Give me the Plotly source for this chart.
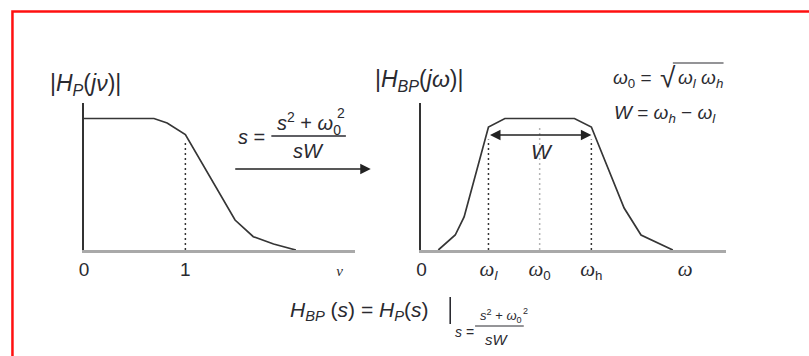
import plotly.graph_objects as go

W_PX, H_PX = 809, 356

# Prototype low-pass magnitude |H_P(jν)|
nu = [0, 0.69, 0.82, 1.0, 1.49, 1.67, 1.87, 2.09]
hp_mag = [1.0, 1.0, 0.966, 0.878, 0.228, 0.101, 0.046, 0.0]

# Transformed band-pass magnitude |H_BP(jω)|
omega = [0.143, 0.286, 0.361, 0.567, 0.706, 1.294, 1.437, 1.714, 1.857, 2.126]
hbp_mag = [0.0, 0.114, 0.251, 0.935, 1.0, 1.0, 0.935, 0.319, 0.114, 0.0]

# Band edges and centre frequency
w_l, w_0, w_h = 0.567, 1.0, 1.437
guide_top = {"l": 0.84, "0": 0.95, "h": 0.84}
nu_cut, nu_cut_top = 1.0, 0.82
w_arrow_level = 0.8745

# Axis tick labels
lp_tickvals = [0, 1, 2.52]
lp_ticktext = ["0", "1", "<span style='font-family:Liberation Serif;font-size:15px'><i>ν</i></span>"]
OM = "<span style='font-family:Liberation Serif;font-size:21px'><i>ω</i></span>"
bp_tickvals = [0, w_l, w_0, w_h, 2.23]
bp_ticktext = ["0",
               OM + "<sub><i>l</i></sub>",
               OM + "<sub>0</sub>",
               OM + "<sub>h</sub>",
               OM]

INK = "#2a2a30"
CURVE = "#363636"
AXIS_X = "#a9a9a9"


def px(x):
    return x / W_PX


def py(y):
    return 1 - y / H_PX


fig = go.Figure()

fig.add_trace(go.Scatter(x=nu, y=hp_mag, mode="lines", xaxis="x", yaxis="y",
                         line=dict(color=CURVE, width=1.7), hoverinfo="skip"))
fig.add_trace(go.Scatter(x=[nu_cut, nu_cut], y=[0, nu_cut_top], mode="lines",
                         xaxis="x", yaxis="y",
                         line=dict(color="#333", width=1.5, dash="2px,3px"), hoverinfo="skip"))

fig.add_trace(go.Scatter(x=omega, y=hbp_mag, mode="lines", xaxis="x2", yaxis="y2",
                         line=dict(color=CURVE, width=1.7), hoverinfo="skip"))
for key, xv, col in [("l", w_l, "#333"), ("0", w_0, "#b5b5b5"), ("h", w_h, "#333")]:
    fig.add_trace(go.Scatter(x=[xv, xv], y=[0, guide_top[key]], mode="lines",
                             xaxis="x2", yaxis="y2",
                             line=dict(color=col, width=1.5, dash="2px,3px"), hoverinfo="skip"))

y_dom = [py(250), py(102.5)]
y_rng = [0, 147.5 / 131.5]

common_x = dict(showgrid=False, zeroline=False, showline=True, linecolor=AXIS_X,
                linewidth=2.5, ticks="", tickfont=dict(family="Liberation Sans", size=19, color=INK),
                fixedrange=True)
common_y = dict(showgrid=False, zeroline=False, showline=True, linecolor="#333",
                linewidth=1.5, showticklabels=False, ticks="", range=y_rng, domain=y_dom,
                fixedrange=True)

fig.update_layout(
    width=W_PX, height=H_PX,
    margin=dict(l=0, r=0, t=0, b=0),
    paper_bgcolor="white", plot_bgcolor="rgba(0,0,0,0)",
    showlegend=False,
    xaxis=dict(domain=[px(79.5), px(352)], range=[0, (352 - 79.5) / 102],
               tickvals=lp_tickvals, ticktext=lp_ticktext, anchor="y", **common_x),
    yaxis=dict(anchor="x", **common_y),
    xaxis2=dict(domain=[px(419), px(725)], range=[0, 306 / 119],
                tickvals=bp_tickvals, ticktext=bp_ticktext, anchor="y2", **common_x),
    yaxis2=dict(anchor="x2", **common_y),
)

F = "Liberation Sans"
ann = []


def txt(x, y, s, size=18, xanchor="center", family=F):
    ann.append(dict(x=px(x), y=py(y), xref="paper", yref="paper", text=s, showarrow=False,
                    xanchor=xanchor, yanchor="middle",
                    font=dict(family=family, size=size, color=INK)))


# Axis titles
txt(81, 85, "|<i>H</i><sub><i>P</i></sub>(<i>jν</i>)|", 23)
txt(417, 80, "|<i>H</i><sub><i>BP</i></sub>(<i>jω</i>)|", 23)

# Transformation s = (s^2 + ω0^2) / (sW)
txt(248, 137, "<i>s</i> =", 20)
txt(306, 123, "<i>s</i><sup>2</sup> + <i>ω</i><sub>0</sub>", 20)
txt(338, 113, "2", 14)
txt(305, 151, "<i>sW</i>", 20)

# Relations on the right
txt(610, 79, "<i>ω</i><sub>0</sub> =", 19, "left")
txt(667, 77, "√", 28)
txt(675, 79, "<i>ω</i><sub><i>l</i></sub> <i>ω</i><sub><i>h</i></sub>", 19, "left")
txt(611, 114, "<i>W</i> = <i>ω</i><sub><i>h</i></sub> − <i>ω</i><sub><i>l</i></sub>", 19, "left")

# Band width label
txt(540, 152, "<i>W</i>", 21)

# Bottom identity
txt(285, 311, "<i>H</i><sub><i>BP</i></sub> (<i>s</i>) = <i>H</i><sub><i>P</i></sub>(<i>s</i>)", 21, "left")
txt(462, 332, "<i>s</i> =", 14)
txt(499, 316, "<i>s</i><sup>2</sup> + <i>ω</i><sub>0</sub>", 13)
txt(524, 311, "2", 9)
txt(495, 339, "<i>sW</i>", 15)

# Transformation arrow between the two panels
ann.append(dict(x=px(368), y=py(169), xref="paper", yref="paper", ax=-137, ay=0,
                axref="pixel", ayref="pixel", text="", showarrow=True,
                arrowhead=2, arrowsize=1.4, arrowwidth=1.5, arrowcolor="#222"))

# Bandwidth double arrow
ann.append(dict(x=w_h, y=w_arrow_level, xref="x2", yref="y2", ax=w_l, ay=w_arrow_level,
                axref="x2", ayref="y2", text="", showarrow=True, arrowside="end+start",
                arrowhead=2, startarrowhead=2, arrowsize=1.4, startarrowsize=1.4,
                arrowwidth=1.5, arrowcolor="#222"))

fig.update_layout(annotations=ann)

shapes = [
    # frame
    dict(type="rect", xref="paper", yref="paper", x0=px(7.5), y0=py(11.5), x1=1.05, y1=-0.05,
         line=dict(color="#ff1010", width=2.5)),
    # fraction bars
    dict(type="line", xref="paper", yref="paper", x0=px(268), x1=px(343), y0=py(136), y1=py(136),
         line=dict(color=INK, width=1.3)),
    dict(type="line", xref="paper", yref="paper", x0=px(473), x1=px(522), y0=py(326), y1=py(326),
         line=dict(color=INK, width=1.0)),
    # evaluation bar
    dict(type="line", xref="paper", yref="paper", x0=px(448), x1=px(448), y0=py(297), y1=py(324),
         line=dict(color=INK, width=1.6)),
    # radical overbar
    dict(type="line", xref="paper", yref="paper", x0=px(672), x1=px(723), y0=py(63), y1=py(63),
         line=dict(color=INK, width=1.2)),
]
fig.update_layout(shapes=shapes)

fig.write_html("out.html")
